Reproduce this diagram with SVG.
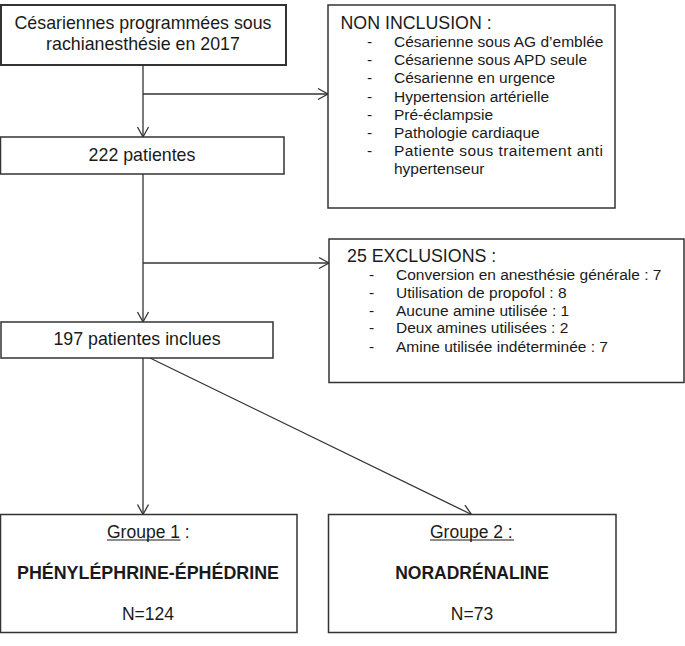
<svg xmlns="http://www.w3.org/2000/svg" width="685" height="646" viewBox="0 0 685 646">
<defs>
<marker id="arr" markerUnits="userSpaceOnUse" markerWidth="12" markerHeight="13" refX="10" refY="5.5" orient="auto" overflow="visible">
<path d="M0,0 L10,5.5 L0,11" fill="none" stroke="#333" stroke-width="1.3"/>
</marker>
<style>
.box{fill:#fff;stroke:#333;stroke-width:1.5}
.t{font-family:"Liberation Sans",Arial,sans-serif;fill:#1a1a1a}
.h{font-size:17.8px}
.i{font-size:15.5px}
.g{font-size:17.5px}
.b{font-weight:bold}
.c{text-anchor:middle}
.ln{stroke:#333;stroke-width:1.3;fill:none}
</style>
</defs>
<rect width="685" height="646" fill="#fff"/>

<g id="connectors">
<line class="ln" x1="143" y1="65" x2="143" y2="137" marker-end="url(#arr)"/>
<line class="ln" x1="143" y1="94" x2="328" y2="94" marker-end="url(#arr)"/>
<line class="ln" x1="143" y1="174" x2="143" y2="322" marker-end="url(#arr)"/>
<line class="ln" x1="143" y1="263" x2="329" y2="263" marker-end="url(#arr)"/>
<line class="ln" x1="143" y1="358" x2="143" y2="514.5" marker-end="url(#arr)"/>
<line class="ln" x1="150" y1="358" x2="471.5" y2="514.5" marker-end="url(#arr)"/>
</g>

<g id="n-cesariennes">
<rect class="box" x="1" y="5" width="285" height="60" style="stroke-width:2"/>
<text class="t h c" x="143" y="29">Césariennes programmées sous</text>
<text class="t h c" x="143" y="49.5">rachianesthésie en 2017</text>
</g>

<g id="n-noninclusion">
<rect class="box" x="328" y="5" width="287" height="203"/>
<text class="t h" x="340.5" y="28.5">NON INCLUSION :</text>
<g class="t i">
<text x="367" y="46.7">-</text><text x="394" y="46.7">Césarienne sous AG d’emblée</text>
<text x="367" y="65">-</text><text x="394" y="65">Césarienne sous APD seule</text>
<text x="367" y="83.3">-</text><text x="394" y="83.3">Césarienne en urgence</text>
<text x="367" y="101.7">-</text><text x="394" y="101.7">Hypertension artérielle</text>
<text x="367" y="119.5">-</text><text x="394" y="119.5">Pré-éclampsie</text>
<text x="367" y="137.7">-</text><text x="394" y="137.7">Pathologie cardiaque</text>
<text x="367" y="156">-</text><text x="394" y="156" textLength="209" lengthAdjust="spacing">Patiente sous traitement anti</text>
<text x="394" y="174.3">hypertenseur</text>
</g>
</g>

<g id="n-222">
<rect class="box" x="0.5" y="137" width="283.5" height="37"/>
<text class="t h c" x="142" y="160.7">222 patientes</text>
</g>

<g id="n-exclusions">
<rect class="box" x="329" y="239" width="355" height="143.5"/>
<text class="t h" x="347" y="262.3">25 EXCLUSIONS :</text>
<g class="t i">
<text x="369" y="280">-</text><text x="396" y="280">Conversion en anesthésie générale : 7</text>
<text x="369" y="297.8">-</text><text x="396" y="297.8">Utilisation de propofol : 8</text>
<text x="369" y="315.7">-</text><text x="396" y="315.7">Aucune amine utilisée : 1</text>
<text x="369" y="333.4">-</text><text x="396" y="333.4">Deux amines utilisées : 2</text>
<text x="369" y="351.7">-</text><text x="396" y="351.7">Amine utilisée indéterminée : 7</text>
</g>
</g>

<g id="n-197">
<rect class="box" x="1" y="322" width="272" height="36"/>
<text class="t h c" x="137" y="345">197 patientes inclues</text>
</g>

<g id="n-groupe1">
<rect class="box" x="0.5" y="514.5" width="296.5" height="118"/>
<text class="t g" x="107" y="537.7">Groupe 1 :</text>
<line x1="107" y1="540" x2="180.5" y2="540" stroke="#1a1a1a" stroke-width="1"/>
<text class="t g b c" x="148" y="579" textLength="262" lengthAdjust="spacingAndGlyphs">PHÉNYLÉPHRINE-ÉPHÉDRINE</text>
<text class="t g c" x="148" y="620">N=124</text>
</g>

<g id="n-groupe2">
<rect class="box" x="328.5" y="514.5" width="287.5" height="118"/>
<text class="t g" x="430" y="537.7">Groupe 2 :</text>
<line x1="430" y1="540" x2="514" y2="540" stroke="#1a1a1a" stroke-width="1"/>
<text class="t g b c" x="472" y="579">NORADRÉNALINE</text>
<text class="t g c" x="472" y="620">N=73</text>
</g>
</svg>
